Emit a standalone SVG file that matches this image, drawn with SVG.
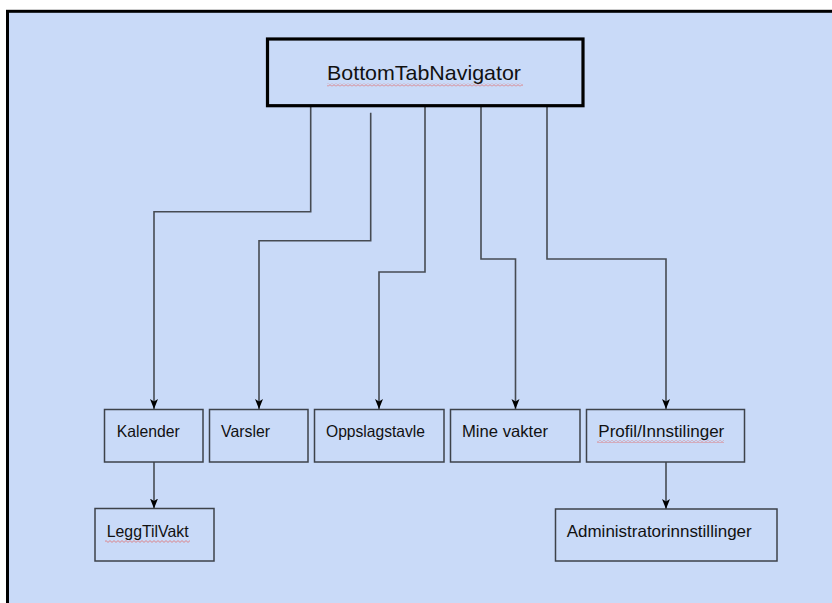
<svg xmlns="http://www.w3.org/2000/svg" width="832" height="603" viewBox="0 0 832 603">
  <style>
    .frame { fill: #c9daf8; stroke: #000000; stroke-width: 3; }
    .node rect.box { fill: #c9daf8; stroke: #3d424a; stroke-width: 1.5; }
    .node rect.main { fill: #c9daf8; stroke: #000000; stroke-width: 3.2; }
    .node text { font-family: "Liberation Sans", Arial, sans-serif; fill: #111111; }
    .lbl { font-size: 16.5px; }
    .title { font-size: 21px; }
    .conn { fill: none; stroke: #464b53; stroke-width: 1.6; }
    .squig { fill: url(#squiggle); }
  </style>
  <defs>
    <marker id="arrow" markerUnits="userSpaceOnUse" markerWidth="10" markerHeight="10" viewBox="0 0 10 10" refX="10" refY="5" orient="auto">
      <path d="M0,1 L10,5 L0,9 L2.5,5 Z" fill="#000000"/>
    </marker>
    <pattern id="squiggle" patternUnits="userSpaceOnUse" width="4" height="3">
      <path d="M0,2.4 L2,0.6 L4,2.4" fill="none" stroke="#e07070" stroke-width="0.8"/>
    </pattern>
  </defs>

  <rect x="0" y="0" width="832" height="603" fill="#ffffff"/>
  <rect class="frame" x="7.5" y="11.3" width="900" height="700"/>

  <g id="connectors">
    <path class="conn" d="M310.7,106 V211.7 H154 V409" marker-end="url(#arrow)"/>
    <path class="conn" d="M370.7,112.7 V240.7 H259 V409" marker-end="url(#arrow)"/>
    <path class="conn" d="M425,106 V272 H379 V409" marker-end="url(#arrow)"/>
    <path class="conn" d="M481,106 V259 H515.5 V409" marker-end="url(#arrow)"/>
    <path class="conn" d="M547,106 V259 H666 V409" marker-end="url(#arrow)"/>
    <path class="conn" d="M154,462 V508.5" marker-end="url(#arrow)"/>
    <path class="conn" d="M666,462 V509" marker-end="url(#arrow)"/>
  </g>

  <g id="bottomtabnavigator" class="node">
    <rect class="main" x="267.5" y="39" width="315.5" height="66.7"/>
    <text class="title" x="327" y="80" textLength="194" lengthAdjust="spacingAndGlyphs">BottomTabNavigator</text>
    <rect class="squig" x="327" y="83.5" width="196" height="3"/>
  </g>

  <g id="kalender" class="node">
    <rect class="box" x="104.5" y="409.5" width="98.5" height="52.5"/>
    <text class="lbl" x="116.7" y="437.3" textLength="63" lengthAdjust="spacingAndGlyphs">Kalender</text>
  </g>

  <g id="varsler" class="node">
    <rect class="box" x="209.5" y="409.5" width="98.5" height="52.5"/>
    <text class="lbl" x="221" y="437.3" textLength="49" lengthAdjust="spacingAndGlyphs">Varsler</text>
  </g>

  <g id="oppslagstavle" class="node">
    <rect class="box" x="314.5" y="409.5" width="129.5" height="52.5"/>
    <text class="lbl" x="326" y="437.3" textLength="99" lengthAdjust="spacingAndGlyphs">Oppslagstavle</text>
  </g>

  <g id="minevakter" class="node">
    <rect class="box" x="450.5" y="409.5" width="129.5" height="52.5"/>
    <text class="lbl" x="462" y="437.3" textLength="86" lengthAdjust="spacingAndGlyphs">Mine vakter</text>
  </g>

  <g id="profil" class="node">
    <rect class="box" x="586.5" y="409.5" width="158" height="52.5"/>
    <text class="lbl" x="598.3" y="437.3" textLength="126" lengthAdjust="spacingAndGlyphs">Profil/Innstilinger</text>
    <rect class="squig" x="597" y="440" width="127" height="3"/>
  </g>

  <g id="leggtilvakt" class="node">
    <rect class="box" x="95" y="508.5" width="119" height="52.5"/>
    <text class="lbl" x="106.7" y="536.7" textLength="82" lengthAdjust="spacingAndGlyphs">LeggTilVakt</text>
    <rect class="squig" x="105" y="540" width="85" height="3"/>
  </g>

  <g id="administratorinnstillinger" class="node">
    <rect class="box" x="555.5" y="509" width="221.5" height="52"/>
    <text class="lbl" x="566.7" y="536.7" textLength="185" lengthAdjust="spacingAndGlyphs">Administratorinnstillinger</text>
  </g>
</svg>
